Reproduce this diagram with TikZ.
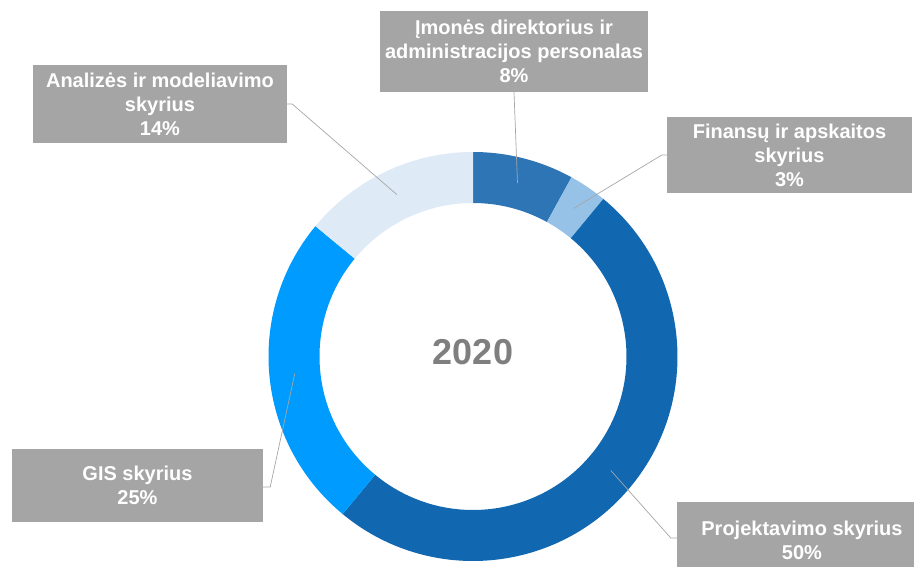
\documentclass[tikz,border=0pt]{standalone}
\usepackage{fontspec}
\setmainfont{Liberation Sans}
\usetikzlibrary{positioning,calc}
\definecolor{cIm}{HTML}{2E75B6}
\definecolor{cFin}{HTML}{95C2E6}
\definecolor{cProj}{HTML}{1168B0}
\definecolor{cGis}{HTML}{009BFF}
\definecolor{cAn}{HTML}{DEEAF6}
\definecolor{boxgray}{HTML}{A5A5A5}
\definecolor{leadgray}{HTML}{A6A6A6}
\definecolor{yeargray}{HTML}{7F7F7F}
\tikzset{
  lbl/.style={fill=boxgray,text=white,font=\bfseries\fontsize{20}{24}\selectfont,align=center,inner sep=0pt},
  lead/.style={draw=leadgray,line width=0.7pt}
}
\begin{document}
\begin{tikzpicture}[x=1pt,y=1pt]
\useasboundingbox (0,0) rectangle (914,566);
\coordinate (O) at (473,209.5);
\foreach \a/\b/\c in {90/61.2/cIm,61.2/50.4/cFin,50.4/-129.6/cProj,-129.6/-219.6/cGis,-219.6/-270/cAn} {
\fill[\c] ($(O)+(\a:204.5)$) arc[start angle=\a,end angle=\b,radius=204.5]
  -- ($(O)+(\b:153.5)$) arc[start angle=\b,end angle=\a,radius=153.5] -- cycle;
}
\node(Y) at (473,214) [font=\bfseries\fontsize{36}{40}\selectfont,text=yeargray] {2020};
\node(Im)   at (514,514.5) [lbl,minimum width=268pt,minimum height=81pt] {Įmonės direktorius ir\\administracijos personalas\\8\%};
\node(Fin)  at (789.5,411) [lbl,minimum width=245pt,minimum height=76pt] {Finansų ir apskaitos\\skyrius\\3\%};
\node(An)   at (160,462)   [lbl,minimum width=254pt,minimum height=78pt] {Analizės ir modeliavimo\\skyrius\\14\%};
\node(Gis)  at (137.5,80.5) [lbl,minimum width=251pt,minimum height=73pt] {GIS skyrius\\25\%};
\node(Proj) at (802,26)    [lbl,minimum width=250pt,minimum height=76pt] {Projektavimo skyrius\\50\%};
\coordinate (pIm)   at ($(O)+(75.6:179)$);
\coordinate (pFin)  at ($(O)+(55.8:179)$);
\coordinate (pProj) at ($(O)+(-39.6:179)$);
\coordinate (pGis)  at ($(O)+(-174.6:179)$);
\coordinate (pAn)   at ($(O)+(115.2:179)$);
\draw[lead] (Im.south) -- (pIm);
\draw[lead] (Fin.west) -- ++(-5,0) -- (pFin);
\draw[lead] ([yshift=2pt]Proj.west) -- ++(-6,0) -- (pProj);
\draw[lead] ([yshift=-1.5pt]Gis.east) -- ++(7,0) -- (pGis);
\draw[lead] (An.east) -- ++(5,0) -- (pAn);
\end{tikzpicture}
\end{document}
